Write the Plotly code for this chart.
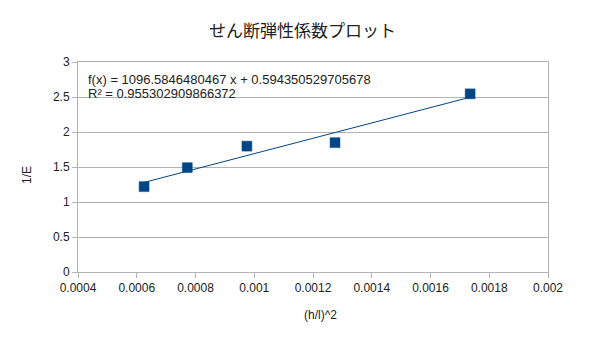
import numpy as np
import plotly.graph_objects as go

# Measured data: squared thickness ratio vs. inverse modulus
h_over_l_sq = [0.000625, 0.000772, 0.000975, 0.001275, 0.001735]
inv_E = [1.220, 1.491, 1.798, 1.848, 2.545]

# Linear regression result
slope = 1096.5846480467
intercept = 0.594350529705678
r_squared = 0.955302909866372

x_ticks = [0.0004, 0.0006, 0.0008, 0.001, 0.0012, 0.0014, 0.0016, 0.0018, 0.002]
x_tick_text = ["0.0004", "0.0006", "0.0008", "0.001", "0.0012", "0.0014", "0.0016", "0.0018", "0.002"]
y_ticks = [0, 0.5, 1, 1.5, 2, 2.5, 3]
y_tick_text = ["0", "0.5", "1", "1.5", "2", "2.5", "3"]

title_text = "せん断弾性係数プロット"
eq_text = f"f(x) = {slope} x + {intercept}"
r2_text = f"R² = {r_squared}"

SERIES_COLOR = "#004586"
GRID_COLOR = "#b3b3b3"
TEXT_COLOR = "#222222"
FONT = "Liberation Sans, Arial, sans-serif"

fit_x = np.array([min(h_over_l_sq), max(h_over_l_sq)])
fit_y = slope * fit_x + intercept

fig = go.Figure()
fig.add_trace(go.Scatter(
    x=fit_x, y=fit_y, mode="lines",
    line=dict(color=SERIES_COLOR, width=1),
    hoverinfo="skip", showlegend=False,
))
fig.add_trace(go.Scatter(
    x=h_over_l_sq, y=inv_E, mode="markers",
    marker=dict(symbol="square", size=10, color=SERIES_COLOR,
                line=dict(color="#1a5a96", width=0.5)),
    showlegend=False,
))

fig.update_layout(
    width=605, height=340,
    margin=dict(l=78, r=57, t=62, b=68),
    paper_bgcolor="white", plot_bgcolor="white",
    font=dict(family=FONT, size=12, color=TEXT_COLOR),
    title=dict(
        text=title_text, x=0.5, xanchor="center", y=1 - 31 / 340, yanchor="middle",
        font=dict(family="Noto Sans CJK JP, Noto Sans, sans-serif", size=17, color=TEXT_COLOR),
    ),
    xaxis=dict(
        range=[0.0004, 0.002], tickvals=x_ticks, ticktext=x_tick_text,
        showgrid=False, zeroline=False,
        showline=True, linecolor=GRID_COLOR, linewidth=1, mirror=True,
        ticks="outside", ticklen=5, tickcolor=GRID_COLOR,
        tickfont=dict(size=12, color=TEXT_COLOR),
    ),
    yaxis=dict(
        range=[0, 3], tickvals=y_ticks, ticktext=y_tick_text,
        showgrid=True, gridcolor=GRID_COLOR, gridwidth=1, zeroline=False,
        showline=True, linecolor=GRID_COLOR, linewidth=1, mirror=True,
        ticks="outside", ticklen=5, tickcolor=GRID_COLOR,
        tickfont=dict(size=12, color=TEXT_COLOR),
    ),
    annotations=[
        dict(text=eq_text, xref="paper", yref="paper", x=0.0177, y=0.916,
             xanchor="left", yanchor="middle", showarrow=False,
             font=dict(size=13, color=TEXT_COLOR)),
        dict(text=r2_text, xref="paper", yref="paper", x=0.0177, y=0.849,
             xanchor="left", yanchor="middle", showarrow=False,
             font=dict(size=13, color=TEXT_COLOR)),
        dict(text="1/E", xref="paper", yref="paper",
             x=(27 - 78) / 470, y=(272 - 175) / 210,
             xanchor="center", yanchor="middle", textangle=-90, showarrow=False,
             font=dict(size=12, color=TEXT_COLOR)),
        dict(text="(h/l)^2", xref="paper", yref="paper",
             x=(320 - 78) / 470, y=(272 - 315) / 210,
             xanchor="center", yanchor="middle", showarrow=False,
             font=dict(size=12, color=TEXT_COLOR)),
    ],
)

fig.write_html("out.html")
